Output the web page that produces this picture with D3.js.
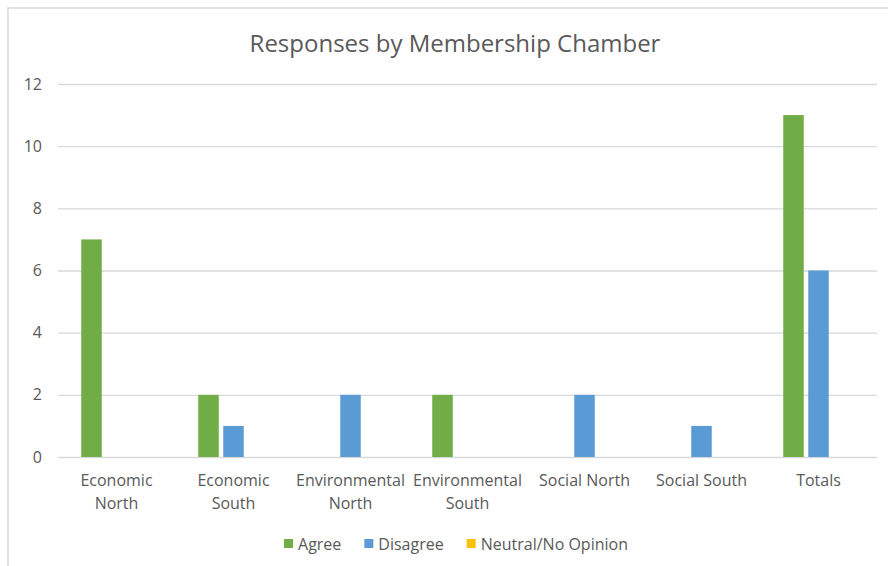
<!DOCTYPE html>
<html>
<head>
<meta charset="utf-8">
<script src="https://cdn.jsdelivr.net/npm/d3@7"></script>
<style>
  html, body { margin: 0; padding: 0; background: #fff; }
  svg { display: block; }
  text { font-family: "Open Sans", "Noto Sans", sans-serif; fill: #595959; }
</style>
</head>
<body>
<svg id="chart" width="888" height="566"></svg>
<script>
const title = "Responses by Membership Chamber";
const categories = ["Economic North", "Economic South", "Environmental North", "Environmental South", "Social North", "Social South", "Totals"];
const seriesNames = ["Agree", "Disagree", "Neutral/No Opinion"];
const agree = [7, 2, 0, 2, 0, 0, 11];
const disagree = [0, 1, 2, 0, 2, 1, 6];
const neutral = [0, 0, 0, 0, 0, 0, 0];
const yTicks = [0, 2, 4, 6, 8, 10, 12];
const colors = ["#70AD47", "#5B9BD5", "#FFC000"];

const seriesValues = [agree, disagree, neutral];
const svg = d3.select("#chart");

svg.append("rect").attr("x", 0).attr("y", 0).attr("width", 888).attr("height", 566).attr("fill", "#fff");
svg.append("rect").attr("x", 8).attr("y", 8).attr("width", 940).attr("height", 620)
  .attr("fill", "none").attr("stroke", "#D9D9D9").attr("stroke-width", 1.5);

svg.append("text").attr("x", 455).attr("y", 52).attr("text-anchor", "middle")
  .style("font-size", "24px").text(title);

const plotLeft = 58, plotRight = 877, plotTop = 84, plotBottom = 457;
const y = d3.scaleLinear().domain([0, 12]).range([plotBottom, plotTop]);
const x0 = d3.scaleBand().domain(categories).range([plotLeft, plotRight]).padding(0);
const x1 = d3.scaleBand().domain(seriesNames).range([-37.5, 37.5]).paddingInner(0.18).paddingOuter(0.09);

// gridlines
const yAxis = d3.axisLeft(y).tickValues(yTicks).tickSize(-(plotRight - plotLeft)).tickPadding(16).tickFormat(d3.format("d"));
const gy = svg.append("g").attr("transform", `translate(${plotLeft},0)`).call(yAxis);
gy.select(".domain").remove();
gy.selectAll(".tick line").attr("stroke", "#D9D9D9").attr("stroke-width", 1.3);
gy.selectAll(".tick text").style("font-size", "16px").attr("fill", "#595959").attr("x", -16);

// bars
const data = [];
categories.forEach((c, i) => {
  seriesNames.forEach((s, j) => data.push({ c, s, v: seriesValues[j][i], color: colors[j] }));
});
svg.append("g").selectAll("rect").data(data).join("rect")
  .attr("x", d => x0(d.c) + x0.bandwidth() / 2 + x1(d.s))
  .attr("width", x1.bandwidth())
  .attr("y", d => y(d.v))
  .attr("height", d => y(0) - y(d.v))
  .attr("fill", d => d.color);

// x axis labels
const xAxis = d3.axisBottom(x0).tickSize(0).tickPadding(0);
const gx = svg.append("g").attr("transform", `translate(0,${plotBottom})`).call(xAxis);
gx.select(".domain").remove();
gx.selectAll(".tick text").each(function(d) {
  const t = d3.select(this);
  t.text(null).attr("y", 0).attr("dy", null).style("font-size", "16px").attr("fill", "#595959");
  const words = d.split(" ");
  let lines = [d];
  if (d.length > 13) lines = [words.slice(0, -1).join(" "), words[words.length - 1]];
  lines.forEach((ln, k) => {
    t.append("tspan").attr("x", 0).attr("y", 29 + k * 23).text(ln);
  });
});

// legend
const lg = svg.append("g");
const items = lg.selectAll("g").data(seriesNames).join("g");
items.append("rect").attr("width", 9).attr("height", 9).attr("y", -9).attr("fill", (d, i) => colors[i]);
items.append("text").attr("x", 14).attr("y", 0).attr("dy", "0.1em").style("font-size", "16px").text(d => d);
let xpos = 0;
items.each(function() {
  const w = d3.select(this).select("text").node().getComputedTextLength();
  d3.select(this).attr("transform", `translate(${xpos},548)`);
  xpos += 14 + w + 23;
});
const totalW = xpos - 23;
lg.attr("transform", `translate(${456 - totalW / 2},0)`);
</script>
</body>
</html>
